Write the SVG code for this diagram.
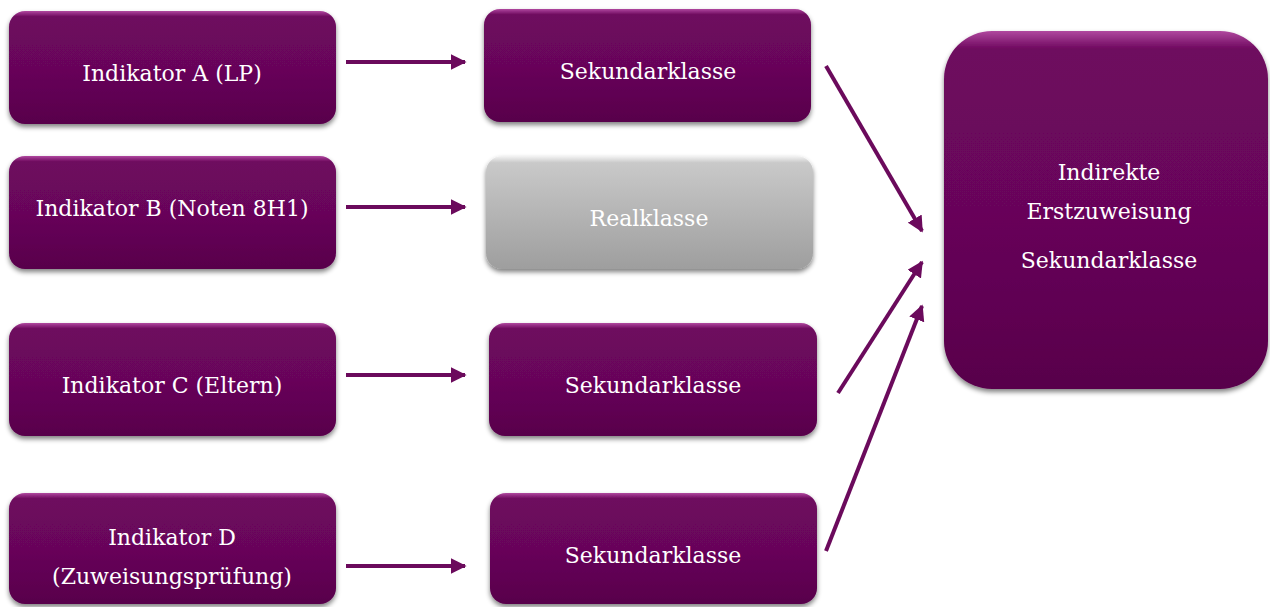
<svg xmlns="http://www.w3.org/2000/svg" width="1270" height="607" viewBox="0 0 1270 607">
<defs>
<linearGradient id="gp" x1="0" y1="0" x2="0" y2="1">
<stop offset="0" stop-color="#b0489f"/>
<stop offset="0.05" stop-color="#6e085e"/>
<stop offset="0.5" stop-color="#68065a"/>
<stop offset="1" stop-color="#58044b"/>
</linearGradient>
<linearGradient id="gg" x1="0" y1="0" x2="0" y2="1">
<stop offset="0" stop-color="#f4f4f4"/>
<stop offset="0.06" stop-color="#c9c9c9"/>
<stop offset="1" stop-color="#9e9e9e"/>
</linearGradient>
<filter id="sh" x="-10%" y="-10%" width="120%" height="130%">
<feGaussianBlur in="SourceAlpha" stdDeviation="2.5"/>
<feOffset dx="0" dy="3" result="b"/>
<feComponentTransfer><feFuncA type="linear" slope="0.5"/></feComponentTransfer>
<feMerge><feMergeNode/><feMergeNode in="SourceGraphic"/></feMerge>
</filter>
<marker id="ah" viewBox="0 0 10 10" refX="9" refY="5" markerWidth="4" markerHeight="4" orient="auto" markerUnits="strokeWidth">
<path d="M0,0 L10,5 L0,10 z" fill="#6b0a5c"/>
</marker>
<style>
.p{fill:url(#gp);filter:url(#sh)}
.g{fill:url(#gg);filter:url(#sh)}
.t{font-family:"DejaVu Serif","Liberation Serif",serif;font-size:22px;fill:#ffffff;text-anchor:middle}
.c{stroke:#6b0a5c;stroke-width:4;fill:none;marker-end:url(#ah)}
</style>
</defs>
<g id="nodeA"><rect class="p" x="9" y="11" width="327" height="113" rx="16"/><text class="t" x="172" y="81">Indikator A (LP)</text></g>
<g id="nodeB"><rect class="p" x="9" y="156" width="327" height="113" rx="16"/><text class="t" x="172" y="216">Indikator B (Noten 8H1)</text></g>
<g id="nodeC"><rect class="p" x="9" y="323" width="327" height="113" rx="16"/><text class="t" x="172" y="393">Indikator C (Eltern)</text></g>
<g id="nodeD"><rect class="p" x="9" y="493" width="327" height="111" rx="16"/><text class="t" x="172" y="545">Indikator D</text><text class="t" x="172" y="584">(Zuweisungsprüfung)</text></g>
<g id="sek1"><rect class="p" x="484" y="9" width="327" height="113" rx="16"/><text class="t" x="648" y="79">Sekundarklasse</text></g>
<g id="real"><rect class="g" x="486" y="156" width="327" height="113" rx="16"/><text class="t" x="649" y="226">Realklasse</text></g>
<g id="sek2"><rect class="p" x="489" y="323" width="328" height="113" rx="16"/><text class="t" x="653" y="393">Sekundarklasse</text></g>
<g id="sek3"><rect class="p" x="490" y="493" width="327" height="111" rx="16"/><text class="t" x="653" y="563">Sekundarklasse</text></g>
<g id="target"><rect class="p" x="944" y="31" width="324" height="358" rx="48"/><text class="t" x="1109" y="180">Indirekte</text><text class="t" x="1109" y="219">Erstzuweisung</text><text class="t" x="1109" y="268">Sekundarklasse</text></g>
<g id="connectors">
<line class="c" x1="346" y1="62" x2="465" y2="62"/>
<line class="c" x1="346" y1="207" x2="465" y2="207"/>
<line class="c" x1="346" y1="375" x2="465" y2="375"/>
<line class="c" x1="346" y1="566" x2="465" y2="566"/>
<line class="c" x1="826" y1="66" x2="922" y2="231"/>
<line class="c" x1="838" y1="393" x2="922" y2="262"/>
<line class="c" x1="826" y1="551" x2="922" y2="306"/>
</g>
</svg>
